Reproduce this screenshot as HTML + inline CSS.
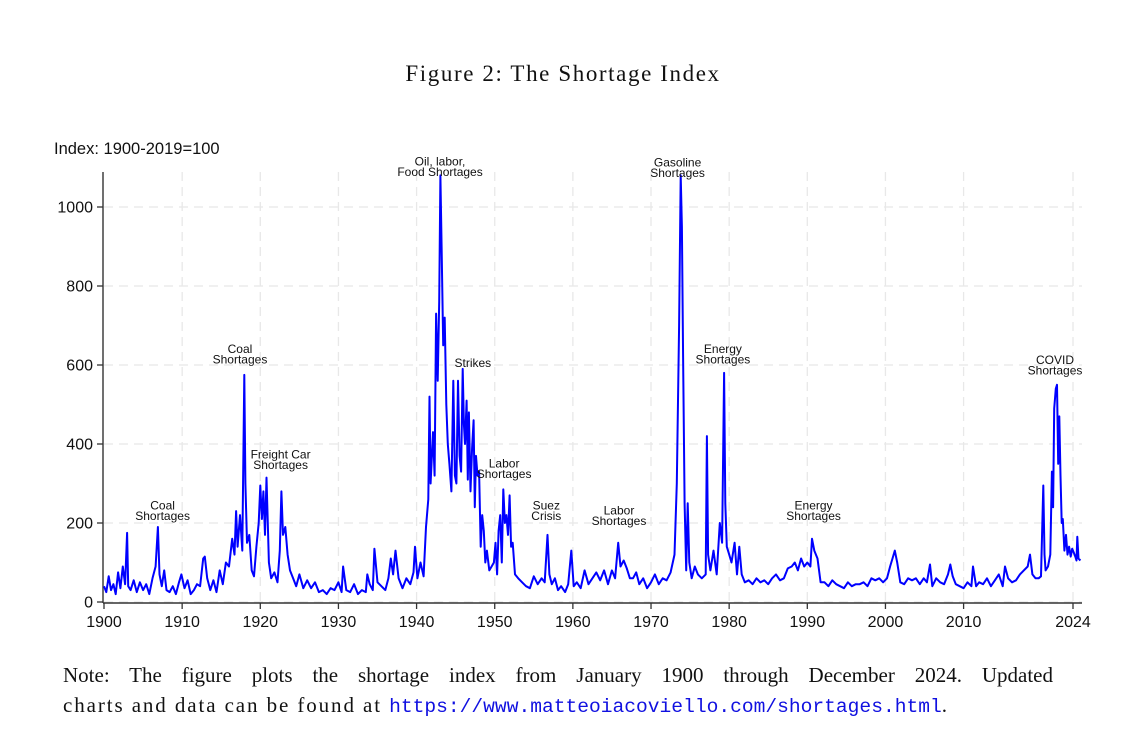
<!DOCTYPE html>
<html><head><meta charset="utf-8"><style>
body{margin:0;background:#fff;width:1126px;height:748px;overflow:hidden;position:relative;font-family:"Liberation Sans",sans-serif}
.title{position:absolute;left:0;width:1126px;top:61px;text-align:center;font-family:"Liberation Serif",serif;font-size:23px;letter-spacing:1.6px;color:#111}
.note{position:absolute;left:63px;width:990px;font-family:"Liberation Serif",serif;font-size:21px;color:#111;white-space:nowrap}
.l1{top:663px;text-align:justify;text-align-last:justify;white-space:normal}
.l2{top:693px;letter-spacing:1.9px}
.url{font-family:"Liberation Mono",monospace;color:#1010e0;font-size:19.6px;letter-spacing:0}
svg{position:absolute;left:0;top:0}
</style></head><body>
<div class="title">Figure 2: The Shortage Index</div>
<svg id="chart" width="1126" height="748"></svg>
<div class="note l1">Note: The figure plots the shortage index from January 1900 through December 2024. Updated</div>
<div class="note l2">charts and data can be found at <span class="url">https://www.matteoiacoviello.com/shortages.html</span>.</div>
<script>
const years=[
1900,1900.3,1900.6,1900.9,1901.2,1901.5,1901.8,1902.1,1902.4,1902.7,1902.95,1903.1,1903.4,1903.8,1904.2,1904.6,1905,1905.4,1905.8,1906.2,1906.6,1906.9,1907.1,1907.4,1907.7,1908,1908.4,1908.8,1909.2,1909.6,
1909.9,1910.3,1910.7,1911.1,1911.5,1911.9,1912.3,1912.7,1912.9,1913.2,1913.6,1914,1914.4,1914.8,1915.2,1915.6,1916,1916.4,1916.7,1916.9,1917.1,1917.4,1917.7,1917.95,1918.1,1918.3,1918.6,1918.9,1919.2,1919.5,
1919.8,1920,1920.2,1920.4,1920.6,1920.8,1921.1,1921.4,1921.8,1922.2,1922.5,1922.7,1922.9,1923.2,1923.5,1923.8,1924.2,1924.6,1925,1925.5,1926,1926.5,1927,1927.5,1928,1928.5,1929,1929.5,
1930,1930.4,1930.6,1931,1931.5,1932,1932.5,1933,1933.5,1933.7,1934,1934.4,1934.6,1935,1935.5,1936,1936.4,1936.7,1937,1937.3,1937.7,1938.2,1938.7,1939.2,1939.6,1939.8,
1940.1,1940.5,1940.9,1941.2,1941.5,1941.65,1941.8,1942.1,1942.3,1942.5,1942.7,1942.9,1943.05,1943.2,1943.4,1943.6,1943.8,1944,1944.2,1944.45,1944.7,1944.9,1945.1,1945.3,1945.5,1945.7,1945.9,1946.05,1946.2,1946.4,1946.55,1946.7,1946.9,1947.1,1947.3,1947.45,1947.6,1947.8,1948,1948.2,1948.4,1948.6,1948.8,1949,1949.3,1949.6,1949.9,
1950.1,1950.3,1950.5,1950.7,1950.9,1951.1,1951.3,1951.5,1951.7,1951.9,1952.1,1952.3,1952.6,1953,1953.5,1954,1954.5,1955,1955.5,1956,1956.4,1956.75,1957,1957.3,1957.7,1958.1,1958.5,1959,1959.4,1959.8,
1960.1,1960.5,1961,1961.5,1962,1962.5,1963,1963.5,1964,1964.5,1965,1965.4,1965.8,1966.1,1966.5,1966.9,1967.3,1967.7,1968.1,1968.5,1969,1969.5,
1970,1970.5,1971,1971.5,1972,1972.5,1973,1973.3,1973.6,1973.8,1973.95,1974.1,1974.3,1974.5,1974.7,1974.9,1975.2,1975.6,1976,1976.5,1977,1977.15,1977.3,1977.6,1978,1978.4,1978.8,1979.1,1979.35,1979.5,1979.7,
1980,1980.3,1980.7,1981,1981.3,1981.6,1982,1982.5,1983,1983.5,1984,1984.5,1985,1985.5,1986,1986.5,1987,1987.5,1988,1988.4,1988.8,1989.2,1989.6,
1990,1990.4,1990.6,1990.9,1991.3,1991.7,1992.2,1992.7,1993.2,1993.7,1994.2,1994.7,1995.2,1995.7,1996.2,1996.7,1997.2,1997.7,1998.2,1998.7,1999.2,1999.7,
2000.2,2000.6,2000.9,2001.2,2001.5,2001.9,2002.4,2002.9,2003.4,2003.9,2004.4,2004.9,2005.3,2005.7,2006,2006.5,2007,2007.5,2008,2008.3,2008.6,2009,2009.5,
2010,2010.5,2011,2011.2,2011.6,2012,2012.5,2013,2013.5,2014,2014.5,2015,2015.3,2015.7,2016.2,2016.7,2017.2,2017.7,2018.2,2018.5,2018.8,2019.2,2019.6,2019.9,
2020.2,2020.35,2020.5,2020.8,2021.1,2021.3,2021.45,2021.6,2021.8,2021.95,2022.1,2022.25,2022.4,2022.55,2022.7,2022.9,2023.1,2023.3,2023.5,2023.7,2023.9,2024.1,2024.3,2024.45,2024.55,2024.7,2024.95];
const values=[
40,25,65,30,45,20,75,35,90,45,175,40,30,55,25,50,30,45,20,60,90,190,70,40,80,30,25,40,20,50,
70,35,55,20,30,45,40,110,115,60,30,55,25,80,45,100,90,160,120,230,140,220,130,575,300,150,170,80,65,140,
200,295,210,280,170,315,100,60,75,50,130,280,170,190,120,80,60,40,70,35,55,35,50,25,30,20,35,30,
50,25,90,30,25,45,20,30,25,70,45,30,135,50,40,30,60,110,70,130,60,35,60,45,75,140,
60,100,65,190,260,520,300,430,320,730,560,760,1080,900,650,720,500,400,350,280,560,320,300,560,370,330,590,450,400,510,310,480,280,390,460,240,370,320,330,140,220,180,100,130,80,90,100,
150,70,180,220,100,285,200,220,170,270,140,150,70,60,50,40,35,65,45,60,50,170,70,45,60,30,40,25,45,130,
40,50,35,80,45,60,75,55,80,45,80,60,150,90,105,85,60,60,75,45,60,35,
50,70,45,60,55,75,120,300,700,1080,950,620,250,80,250,100,60,90,70,60,70,420,120,80,130,70,200,150,580,250,140,
120,100,150,70,140,70,50,55,45,60,50,55,45,60,70,55,60,85,90,100,80,110,90,
100,90,160,130,110,50,50,40,55,45,40,35,50,40,45,45,50,40,60,55,60,50,
60,90,110,130,100,50,45,60,55,60,45,60,50,95,40,60,50,45,70,95,65,45,40,
35,50,40,90,40,50,45,60,40,55,70,40,90,60,50,55,70,80,90,120,70,60,60,65,
295,120,80,90,120,330,240,490,540,550,350,470,320,200,210,130,170,120,140,115,135,125,115,105,165,110,105];
const yTicks=[0,200,400,600,800,1000];
const xTicks=[1900,1910,1920,1930,1940,1950,1960,1970,1980,1990,2000,2010,2024];
const gridYears=[1910,1920,1930,1940,1950,1960,1970,1980,1990,2000,2010,2024];
const annotations=[["Oil, labor,|Food Shortages",1943,1105],["Gasoline|Shortages",1973.4,1102],["Coal|Shortages",1917.4,630],["Strikes",1947.2,615],["Energy|Shortages",1979.2,630],["COVID|Shortages",2021.7,603],["Freight Car|Shortages",1922.6,363],["Coal|Shortages",1907.5,234],["Labor|Shortages",1951.2,341],["Suez|Crisis",1956.6,234],["Labor|Shortages",1965.9,221],["Energy|Shortages",1990.8,234]];
const X0=104,X1=1073,Y0=602,Y1=207;
const xs=y=>X0+(y-1900)*(X1-X0)/124;
const ys=v=>Y0-v*(Y0-Y1)/1000;
const svg=document.getElementById('chart');const NS='http://www.w3.org/2000/svg';
function mk(t,a,parent){const e=document.createElementNS(NS,t);for(const k in a)e.setAttribute(k,a[k]);(parent||svg).appendChild(e);return e;}
yTicks.forEach(v=>{
 const g=mk('line',{x1:104,x2:1082,y1:ys(v),y2:ys(v),stroke:'#e8e8e8','stroke-width':1.3,'stroke-dasharray':'9,6'});
 
 const t=mk('line',{x1:97,x2:103,y1:ys(v),y2:ys(v),stroke:'#333','stroke-width':1.3});
 
 const l=mk('text',{x:93,y:ys(v)+5.5,'text-anchor':'end','font-size':16,fill:'#111','font-family':'Liberation Sans, sans-serif'});l.textContent=v;
 
});
gridYears.forEach(y=>{
 const g=mk('line',{x1:xs(y),x2:xs(y),y1:172,y2:602,stroke:'#e8e8e8','stroke-width':1.3,'stroke-dasharray':'9,6'});
 
});
xTicks.forEach(y=>{
 const t=mk('line',{x1:xs(y),x2:xs(y),y1:603,y2:609,stroke:'#333','stroke-width':1.3});
 
 const l=mk('text',{x:xs(y),y:627,'text-anchor':'middle','font-size':16,fill:'#111','font-family':'Liberation Sans, sans-serif'});l.textContent=y;
 
});
const ya=mk('line',{x1:103,x2:103,y1:172,y2:603,stroke:'#333','stroke-width':1.4});

const xa=mk('line',{x1:103,x2:1082,y1:603,y2:603,stroke:'#333','stroke-width':1.4});

const yt=mk('text',{x:54,y:154,'font-size':16.5,fill:'#111','font-family':'Liberation Sans, sans-serif'});yt.textContent='Index: 1900-2019=100';

const d=years.map((y,i)=>(i?'L':'M')+xs(y).toFixed(1)+','+ys(values[i]).toFixed(1)).join('');
const p=mk('path',{d:d,fill:'none',stroke:'#0000ff','stroke-width':2,'stroke-linejoin':'round'});

annotations.forEach(a=>{
 const lines=a[0].split('|');
 const g=mk('g',{});
 
 lines.forEach((s,i)=>{const t=mk('text',{x:xs(a[1]),y:ys(a[2])+i*10.5+(lines.length==1?8:0),'text-anchor':'middle','font-size':12,fill:'#111','font-family':'Liberation Sans, sans-serif'},g);t.textContent=s;});
});
</script>
</body></html>
